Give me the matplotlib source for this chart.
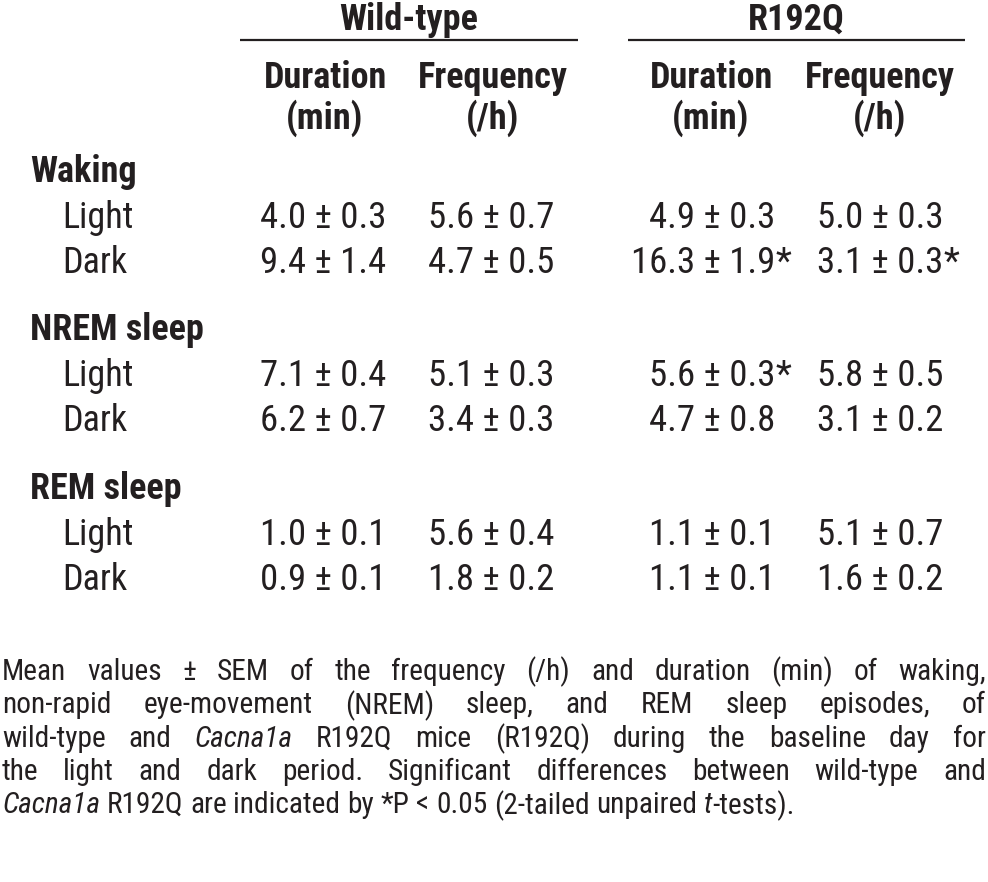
import matplotlib
matplotlib.use("Agg")
import matplotlib.pyplot as plt

# condensed face first, plain ones as fallback
plt.rcParams["font.family"] = ["Roboto Condensed", "Liberation Sans", "DejaVu Sans"]

# table data
groups = ["Wild-type", "R192Q"]
measures = [("Duration", "(min)"), ("Frequency", "(/h)")]
states = ["Waking", "NREM sleep", "REM sleep"]
periods = ["Light", "Dark"]

wt_dur_mean = [4.0, 9.4, 7.1, 6.2, 1.0, 0.9]
wt_dur_sem = [0.3, 1.4, 0.4, 0.7, 0.1, 0.1]
wt_freq_mean = [5.6, 4.7, 5.1, 3.4, 5.6, 1.8]
wt_freq_sem = [0.7, 0.5, 0.3, 0.3, 0.4, 0.2]
rq_dur_mean = [4.9, 16.3, 5.6, 4.7, 1.1, 1.1]
rq_dur_sem = [0.3, 1.9, 0.3, 0.8, 0.1, 0.1]
rq_freq_mean = [5.0, 3.1, 5.8, 3.1, 5.1, 1.6]
rq_freq_sem = [0.3, 0.3, 0.5, 0.2, 0.7, 0.2]
rq_dur_sig = [False, True, True, False, False, False]
rq_freq_sig = [False, True, False, False, False, False]

# caption, ~ marks italic spans
caption_lines = [
    "Mean values ± SEM of the frequency (/h) and duration (min) of waking,",
    "non-rapid eye-movement (NREM) sleep, and REM sleep episodes, of",
    "wild-type and ~Cacna1a~ R192Q mice (R192Q) during the baseline day for",
    "the light and dark period. Significant differences between wild-type and",
    "~Cacna1a~ R192Q are indicated by *P < 0.05 (2-tailed unpaired ~t~-tests).",
]

fig = plt.figure(figsize=(9.88, 8.82), dpi=100)
ax = fig.add_axes([0, 0, 1, 1])
ax.set_xlim(0, 988)
ax.set_ylim(882, 0)
ax.axis("off")

FS = 26
VAL_FS = 26.5
CAP_FS = 21.2
INK = "#231f20"
col_center = [[325, 493], [711, 880]]
col_right = [[386, 554], [775, 943]]
group_center = [409, 796]
group_line = [(240, 578), (628, 965)]

for g, name in enumerate(groups):
    ax.text(group_center[g], 20, name, ha="center", va="center",
            fontsize=FS, fontweight="bold", color=INK)
    ax.plot(group_line[g], [40, 40], color=INK, lw=1.6,
            solid_capstyle="butt")
    for m, (top, unit) in enumerate(measures):
        ax.text(col_center[g][m], 78, top, ha="center", va="center",
                fontsize=FS, fontweight="bold", color=INK)
        ax.text(col_center[g][m], 118, unit, ha="center", va="center",
                fontsize=FS, fontweight="bold", color=INK)

columns = [
    (wt_dur_mean, wt_dur_sem, [False] * 6, col_right[0][0]),
    (wt_freq_mean, wt_freq_sem, [False] * 6, col_right[0][1]),
    (rq_dur_mean, rq_dur_sem, rq_dur_sig, col_right[1][0]),
    (rq_freq_mean, rq_freq_sem, rq_freq_sig, col_right[1][1]),
]

state_y = [172, 330, 489]
for s, state in enumerate(states):
    ax.text(30, state_y[s], state, ha="left", va="center",
            fontsize=FS, fontweight="bold", color=INK)
    for p, period in enumerate(periods):
        y = state_y[s] + 46 + 45 * p
        ax.text(62, y, period, ha="left", va="center", fontsize=FS, color=INK)
        i = 2 * s + p
        for mean, sem, sig, xr in columns:
            ax.text(xr, y, f"{mean[i]:.1f} ± {sem[i]:.1f}", ha="right",
                    va="center", fontsize=VAL_FS, color=INK)
            if sig[i]:
                ax.text(xr + 1, y, "*", ha="left", va="center",
                        fontsize=VAL_FS, color=INK)

# justified caption
fig.canvas.draw()
renderer = fig.canvas.get_renderer()


def width(t):
    return t.get_window_extent(renderer).width


probe_a = ax.text(0, 0, "a a", fontsize=CAP_FS)
probe_b = ax.text(0, 0, "aa", fontsize=CAP_FS)
space_w = width(probe_a) - width(probe_b)
probe_a.remove()
probe_b.remove()

left, right = 2, 986
cap_y0, cap_dy = 672, 33.3
for li, line in enumerate(caption_lines):
    y = cap_y0 + li * cap_dy
    words = []
    for word in line.split(" "):
        parts = word.split("~")
        texts = []
        for k, seg in enumerate(parts):
            if not seg:
                continue
            style = "italic" if k % 2 == 1 else "normal"
            texts.append(ax.text(0, y, seg, ha="left", va="center",
                                 fontsize=CAP_FS, fontstyle=style, color=INK))
        words.append(texts)
    widths = [sum(width(t) for t in w) for w in words]
    if li < len(caption_lines) - 1:
        gap = (right - left - sum(widths)) / (len(words) - 1)
    else:
        gap = space_w
    x = left
    for w, ww in zip(words, widths):
        xx = x
        for t in w:
            t.set_x(xx)
            xx += width(t)
        x += ww + gap

fig.savefig("out.png", dpi=100)
